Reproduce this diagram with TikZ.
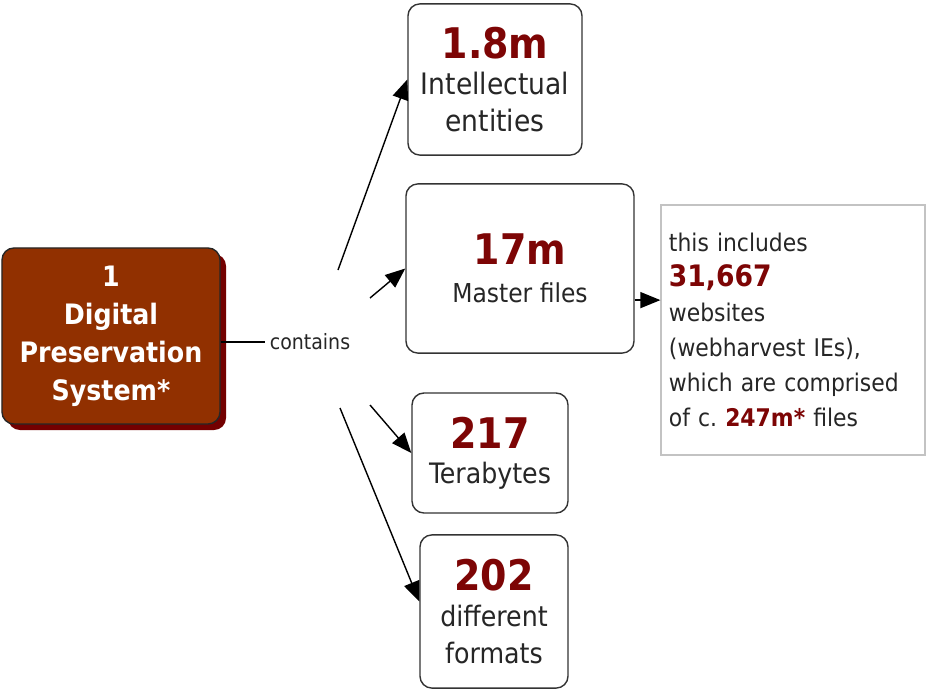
\documentclass[tikz,border=0pt]{standalone}
\usepackage{fontspec}
\setmainfont{DejaVu Sans Condensed}
\usetikzlibrary{positioning,shapes,arrows,arrows.meta,shadows}
\definecolor{sysbrown}{RGB}{145,48,0}
\definecolor{sysshadow}{RGB}{115,0,0}
\definecolor{numred}{RGB}{125,5,5}
\definecolor{infogray}{RGB}{195,195,195}
\newcommand{\bignum}[1]{{\fontsize{30}{34}\selectfont\bfseries\color{numred}#1}}

\begin{document}
\begin{tikzpicture}[x=0.025cm,y=-0.025cm,>={Triangle[length=0.5cm,width=0.4cm]},
	every box/.style={draw=black!80,line width=1pt,rounded corners=0.3cm,fill=white,align=center,inner sep=0pt,text=black!85},
	sysbox/.style={draw=black!85,line width=1pt,rounded corners=0.3cm,fill=sysbrown,text=white,align=center,
		general shadow={fill=sysshadow,shadow xshift=0.15cm,shadow yshift=-0.15cm},
		font=\fontsize{20}{27}\selectfont\bfseries},
	infobox/.style={draw=infogray,line width=0.8pt,fill=white,align=left,text width=6.3cm,inner sep=0pt,text=black!85,
		font=\fontsize{17.3}{25}\selectfont}]
			\useasboundingbox (0,0) rectangle (927,690);

			\node[sysbox,minimum width=5.45cm,minimum height=4.4cm] (sys) at (111,336) {1\\ Digital\\ Preservation\\ System*};
			\node[font=\fontsize{15}{18}\selectfont,text=black!85] (cont) at (310,342) {contains};

			\node[every box,minimum width=4.35cm,minimum height=3.78cm,font=\fontsize{21}{26}\selectfont] (ie) at (495,79.5) {\bignum{1.8m}\\ Intellectual\\ entities};
			\node[every box,minimum width=5.7cm,minimum height=4.23cm,font=\fontsize{18.5}{27}\selectfont] (mf) at (520,268.5) {\bignum{17m}\\ Master files};
			\node[every box,minimum width=3.9cm,minimum height=3.0cm,font=\fontsize{20}{25}\selectfont] (tb) at (490,453) {\bignum{217}\\ Terabytes};
			\node[every box,minimum width=3.7cm,minimum height=3.83cm,font=\fontsize{20}{26}\selectfont] (fmt) at (494,611.5) {\bignum{202}\\ different\\ formats};

			\node[infobox,minimum width=6.6cm,minimum height=6.25cm] (web) at (793,330) {\hspace*{0.05cm}\parbox{6.3cm}{\frenchspacing this includes\\
				{\bfseries\color{numred}\fontsize{21}{25}\selectfont 31,667}\\ websites\\ (webharvest IEs),\\ which are comprised\\ of c. {\bfseries\color{numred}247m*} files}};

			\coordinate (c1) at (338,270);
			\coordinate (c2) at (370,298);
			\coordinate (c3) at (370,405);
			\coordinate (c4) at (340,408);
			\coordinate (mfout) at ([yshift=-0.79cm]mf.east);

			\draw[line width=1pt] (sys.east |- cont) -- (cont.west);
			\path[->,line width=1pt] (c1) edge (ie.west)
						 (c2) edge (mf.west)
						 (c3) edge (tb.west)
						 (c4) edge ([yshift=0.25cm]fmt.west)
						 (mfout) edge (web.west |- mfout);
		\end{tikzpicture}
\end{document}
